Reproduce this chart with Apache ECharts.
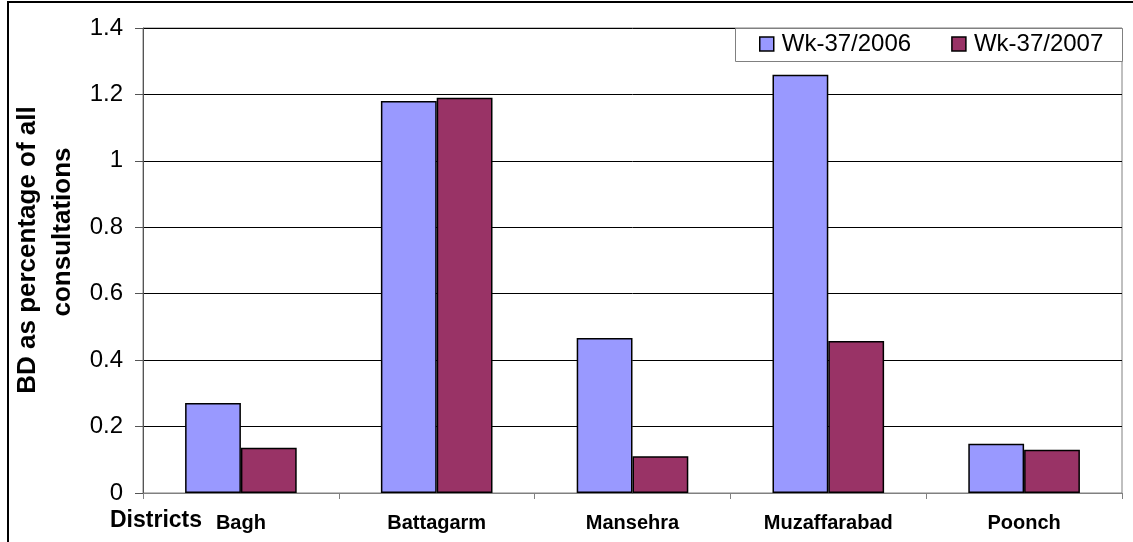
<!DOCTYPE html>
<html>
<head>
<meta charset="utf-8">
<script src="https://cdn.jsdelivr.net/npm/echarts@6/dist/echarts.min.js"></script>
<style>
html,body{margin:0;padding:0;background:#fff;}
#chart{width:1133px;height:542px;}
</style>
</head>
<body>
<div id="chart"></div>
<script>
const categories = ['Bagh', 'Battagarm', 'Mansehra', 'Muzaffarabad', 'Poonch'];
const seriesNames = ['Wk-37/2006', 'Wk-37/2007'];
const wk2006 = [0.271, 1.18, 0.467, 1.259, 0.148];
const wk2007 = [0.136, 1.19, 0.111, 0.458, 0.130];
const yTicks = { min: 0, max: 1.4, interval: 0.2 };
const yTitleLines = ['BD as percentage of all', 'consultations'];
const xTitle = 'Districts';

const chart = echarts.init(document.getElementById('chart'));
const FONT = '"Liberation Sans", Arial, sans-serif';
chart.setOption({
  animation: false,
  backgroundColor: '#fff',
  textStyle: { fontFamily: FONT },
  grid: {
    left: 143, right: 11, top: 28, bottom: 49,
    show: true, borderColor: '#808080', borderWidth: 1, backgroundColor: 'transparent'
  },
  legend: {
    left: 759, top: 32,
    orient: 'horizontal',
    padding: 0,
    itemWidth: 14, itemHeight: 14, itemGap: 40,
    icon: 'rect',
    itemStyle: { borderColor: '#000', borderWidth: 1.5 },
    textStyle: { fontSize: 24, color: '#000', fontFamily: FONT, padding: [0, 0, 0, 3] },
    data: seriesNames,
    z: 20
  },
  xAxis: {
    type: 'category',
    data: categories,
    axisLine: { lineStyle: { color: '#808080', width: 1 } },
    axisTick: { show: true, length: 6, lineStyle: { color: '#808080' } },
    axisLabel: { fontSize: 20, fontWeight: 'bold', color: '#000', margin: 20, fontFamily: FONT }
  },
  yAxis: {
    type: 'value',
    min: yTicks.min, max: yTicks.max, interval: yTicks.interval,
    axisLine: { show: true, lineStyle: { color: '#555', width: 1 } },
    axisTick: { show: true, length: 8, lineStyle: { color: '#555' } },
    axisLabel: { fontSize: 24, color: '#000', margin: 20, fontFamily: FONT },
    splitLine: { show: true, lineStyle: { color: '#000', width: 1 } }
  },
  series: [
    {
      name: seriesNames[0], type: 'bar', data: wk2006,
      barGap: '0%', barCategoryGap: '43%',
      itemStyle: { color: '#9999FF', borderColor: '#000', borderWidth: 1.5 }
    },
    {
      name: seriesNames[1], type: 'bar', data: wk2007,
      barGap: '0%', barCategoryGap: '43%',
      itemStyle: { color: '#993366', borderColor: '#000', borderWidth: 1.5 }
    }
  ],
  graphic: [
    {
      type: 'rect', shape: { x: 8, y: 2, width: 1200, height: 600 },
      style: { fill: 'none', stroke: '#000', lineWidth: 2 }, silent: true, z: 100
    },
    {
      type: 'rect', shape: { x: 735.5, y: 28.5, width: 387, height: 33 },
      style: { fill: '#fff', stroke: '#808080', lineWidth: 1 }, silent: true, z: 5
    },
    {
      type: 'text', left: 110, top: 509,
      style: { text: xTitle, font: 'bold 23px ' + FONT, fill: '#000' }
    },
    {
      type: 'text', x: 28, y: 250, rotation: Math.PI / 2,
      style: { text: yTitleLines[0], font: 'bold 26px ' + FONT, fill: '#000', align: 'center', verticalAlign: 'middle' }
    },
    {
      type: 'text', x: 63, y: 232, rotation: Math.PI / 2,
      style: { text: yTitleLines[1], font: 'bold 26px ' + FONT, fill: '#000', align: 'center', verticalAlign: 'middle' }
    }
  ]
});
</script>
</body>
</html>
